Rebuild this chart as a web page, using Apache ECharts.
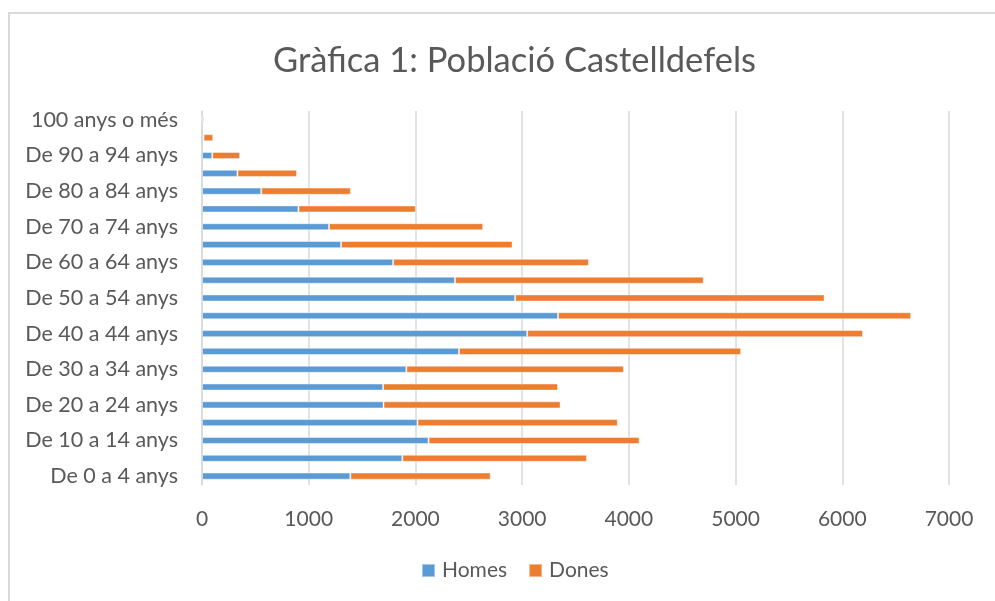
<!DOCTYPE html>
<html>
<head>
<meta charset="utf-8">
<script src="https://cdn.jsdelivr.net/npm/echarts@6/dist/echarts.min.js"></script>
<style>html,body{margin:0;padding:0;background:#fff;}#c{width:995px;height:601px;}</style>
</head>
<body>
<div id="c"></div>
<script>
const categories = ['De 0 a 4 anys','De 5 a 9 anys','De 10 a 14 anys','De 15 a 19 anys','De 20 a 24 anys','De 25 a 29 anys','De 30 a 34 anys','De 35 a 39 anys','De 40 a 44 anys','De 45 a 49 anys','De 50 a 54 anys','De 55 a 59 anys','De 60 a 64 anys','De 65 a 69 anys','De 70 a 74 anys','De 75 a 79 anys','De 80 a 84 anys','De 85 a 89 anys','De 90 a 94 anys','De 95 a 99 anys','100 anys o més'];
const homes = [1390,1877,2123,2019,1701,1697,1915,2408,3047,3336,2934,2370,1791,1303,1190,904,555,332,96,15,3];
const dones = [1315,1730,1977,1877,1659,1639,2038,2644,3147,3309,2900,2331,1835,1607,1445,1100,840,558,261,90,14];
const xTicks = [0,1000,2000,3000,4000,5000,6000,7000];
const seriesNames = ['Homes','Dones'];
const titleText = 'Gràfica 1: Població Castelldefels';

const font = 'Lato, "Open Sans", sans-serif';
const chart = echarts.init(document.getElementById('c'));
chart.setOption({
  animation: false,
  backgroundColor: '#fff',
  graphic: [{type:'rect', shape:{x:9,y:13,width:1000,height:600}, style:{fill:'none', stroke:'#d9d9d9', lineWidth:2}, silent:true}],
  title: {text: titleText, left: 268, top: 38, textStyle:{fontFamily:font, fontSize:34.5, fontWeight:'normal', color:'#595959'}},
  legend: {data: seriesNames, bottom: 15, left: 416, itemWidth: 13, itemHeight: 13, itemGap: 21, icon: 'rect',
    textStyle:{fontFamily:font, fontSize:21, color:'#595959', padding:[0,0,0,2]}},
  grid: {left: 202, right: 46, top: 111, bottom: 116, containLabel: false},
  xAxis: {type:'value', min: xTicks[0], max: xTicks[xTicks.length-1], interval: 1000,
    axisLine:{show:false}, axisTick:{show:false},
    splitLine:{lineStyle:{color:'#d9d9d9', width:1.5}},
    axisLabel:{fontFamily:font, fontSize:21, color:'#595959', margin: 24, formatter: v => String(v)}},
  yAxis: {type:'category', data: categories,
    axisLine:{show:true, lineStyle:{color:'#d9d9d9', width:1.5}}, axisTick:{show:false},
    axisLabel:{interval:1, fontFamily:font, fontSize:21.5, color:'#595959', margin: 24}},
  series: [
    {name: seriesNames[0], type:'bar', stack:'t', data: homes, barCategoryGap:'60%',
      itemStyle:{color:'#5B9BD5', borderColor:'rgba(255,255,255,0.45)', borderWidth:1}},
    {name: seriesNames[1], type:'bar', stack:'t', data: dones, barCategoryGap:'60%',
      itemStyle:{color:'#ED7D31', borderColor:'rgba(255,255,255,0.45)', borderWidth:1}}
  ]
});
</script>
</body>
</html>
